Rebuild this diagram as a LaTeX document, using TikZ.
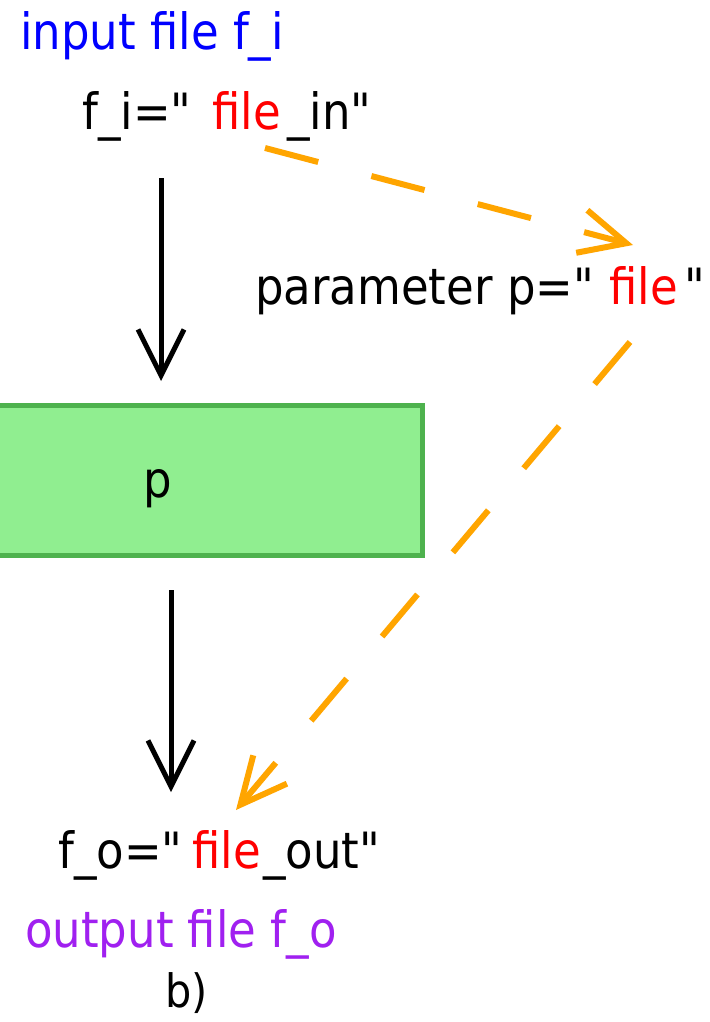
\documentclass[tikz,border=0pt]{standalone}
\usepackage{fontspec}
\setmainfont{DejaVu Sans}[FakeStretch=0.9]
\usetikzlibrary{arrows.meta}
\definecolor{lblue}{RGB}{0,0,255}
\definecolor{lpurple}{RGB}{160,32,240}
\definecolor{lred}{RGB}{255,0,0}
\definecolor{lorange}{RGB}{255,165,0}
\definecolor{lgreenfill}{RGB}{144,238,144}
\definecolor{lgreenline}{RGB}{78,178,78}
\newcommand{\qd}{\textquotedbl}
\begin{document}
\begin{tikzpicture}[x=1pt,y=-1pt,
  txt/.style={inner sep=0pt,anchor=base west,font=\fontsize{50}{60}\selectfont},
  redtxt/.style={txt,text=lred},
  blackarrow/.style={draw=black,line width=5pt,-{Straight Barb[length=46pt,width=46pt,line width=5pt]}},
  orangearrow/.style={draw=lorange,line width=6pt,dash pattern=on 55pt off 55pt,-{Straight Barb[length=46pt,width=44pt,line width=6pt]}},
  greenbox/.style={draw=lgreenline,fill=lgreenfill,line width=5pt,minimum width=442.5pt,minimum height=150pt,inner sep=0pt}]
\useasboundingbox (0,0) rectangle (709,1022);
\clip (0,0) rectangle (709,1022);
\fill[white] (0,0) rectangle (709,1022);

% texts
\node[txt,text=lblue] (inlabel) at (20,50) {input file f\_i};
\node[txt] (fi1) at (82,130) {f\_i=\qd};
\node[redtxt] (fi2) at (212,130) {file};
\node[txt] (fi3) at (287,130) {\_in\qd};

\node[txt] (pa1) at (255,304) {parameter p=\qd};
\node[redtxt] (pa2) at (609,304) {file};
\node[txt] (pa3) at (684,304) {\qd};

\node[greenbox] (box) at (201.25,480.5) {};
\node[inner sep=0pt,anchor=base,font=\fontsize{50}{60}\selectfont] (plabel) at (158,497) {p};

\node[txt] (fo1) at (58,868) {f\_o=\qd};
\node[redtxt] (fo2) at (192,868) {file};
\node[txt] (fo3) at (263,868) {\_out\qd};

\node[txt,text=lpurple] (outlabel) at (25,947) {output file f\_o};
\node[inner sep=0pt,anchor=base west,font=\fontsize{46}{54}\selectfont] (blabel) at (165,1007) {b)};

% connector ends
\coordinate (a1s) at (161,178);
\coordinate (a1e) at (161,381);
\coordinate (a2s) at (171,590);
\coordinate (a2e) at (171,792);
\coordinate (o1s) at (265,148);
\coordinate (o1e) at (633,245);
\coordinate (o2s) at (630,342);
\coordinate (o2e) at (236,810);

\draw[blackarrow] (a1s) -- (a1e);
\draw[blackarrow] (a2s) -- (a2e);
\draw[orangearrow] (o1s) -- (o1e);
\draw[orangearrow] (o2s) -- (o2e);
\end{tikzpicture}
\end{document}
